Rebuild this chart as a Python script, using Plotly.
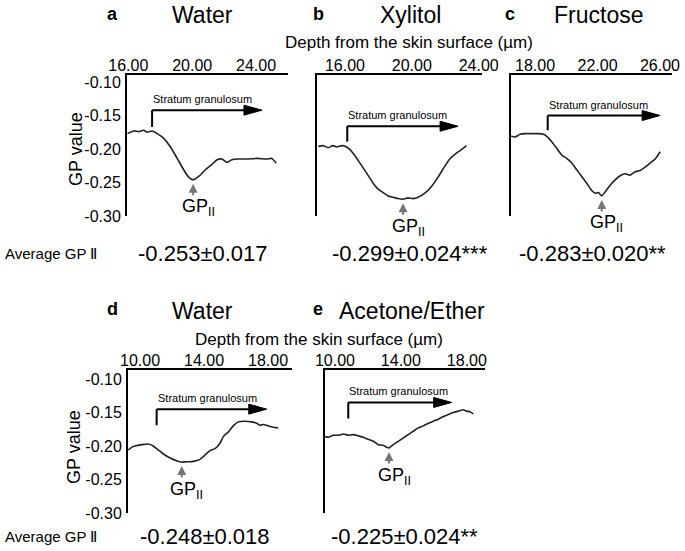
import plotly.graph_objects as go

W, H = 685, 551
FONT = "Liberation Sans, Arial, sans-serif"

panels = ["a", "b", "c", "d", "e"]
treatments = ["Water", "Xylitol", "Fructose", "Water", "Acetone/Ether"]
avg_gp = ["-0.253±0.017", "-0.299±0.024***", "-0.283±0.020**",
          "-0.248±0.018", "-0.225±0.024**"]

# GP profiles (depth in µm, GP value)
depth_a = [15.95, 16.34, 16.66, 16.97, 17.18, 17.49, 17.81, 18.22, 18.64, 19.06, 19.47, 19.78, 20.06,
           20.41, 20.83, 21.24, 21.56, 21.87, 22.18, 22.49, 22.81, 23.43, 24.06, 24.68, 24.99, 25.26]
gp_a = [-0.177, -0.173, -0.174, -0.172, -0.175, -0.173, -0.177, -0.184, -0.197, -0.214, -0.231, -0.242, -0.246,
        -0.241, -0.231, -0.223, -0.216, -0.215, -0.220, -0.216, -0.215, -0.215, -0.214, -0.215, -0.214, -0.221]

depth_b = [14.41, 14.71, 15.00, 15.27, 15.51, 15.80, 16.10, 16.30, 16.60, 16.90, 17.30, 17.69, 17.99, 18.29, 18.59,
           18.89, 19.18, 19.48, 19.78, 20.08, 20.38, 20.78, 21.18, 21.57, 21.97, 22.27, 22.67, 22.97, 23.27]
gp_b = [-0.196, -0.195, -0.198, -0.195, -0.197, -0.195, -0.197, -0.201, -0.210, -0.221, -0.236, -0.251, -0.260,
        -0.265, -0.270, -0.272, -0.274, -0.275, -0.273, -0.274, -0.272, -0.266, -0.256, -0.242, -0.226, -0.215,
        -0.206, -0.201, -0.195]

depth_c = [16.46, 16.72, 17.04, 17.36, 17.79, 18.21, 18.53, 18.75, 19.07, 19.39, 19.71, 20.03, 20.35, 20.67, 20.99,
           21.31, 21.63, 21.85, 22.06, 22.27, 22.49, 22.81, 23.13, 23.45, 23.77, 24.09, 24.41, 24.73, 25.05, 25.37,
           25.69, 26.01]
gp_c = [-0.181, -0.182, -0.178, -0.177, -0.177, -0.177, -0.178, -0.181, -0.189, -0.199, -0.209, -0.214, -0.221,
        -0.231, -0.241, -0.251, -0.262, -0.266, -0.265, -0.270, -0.264, -0.254, -0.246, -0.240, -0.237, -0.239,
        -0.234, -0.232, -0.227, -0.221, -0.215, -0.204]

depth_d = [9.27, 9.48, 9.69, 10.11, 10.52, 10.83, 11.14, 11.46, 11.88, 12.29, 12.61, 12.92, 13.33, 13.75, 13.96,
           14.17, 14.38, 14.69, 15.00, 15.21, 15.52, 15.83, 16.14, 16.56, 16.98, 17.29, 17.50, 17.71, 18.02, 18.33,
           18.64]
gp_d = [-0.206, -0.202, -0.200, -0.198, -0.197, -0.200, -0.206, -0.212, -0.218, -0.222, -0.224, -0.2235, -0.223,
        -0.220, -0.216, -0.211, -0.207, -0.204, -0.196, -0.186, -0.179, -0.170, -0.164, -0.163, -0.164, -0.166,
        -0.169, -0.168, -0.170, -0.172, -0.173]

depth_e = [9.40, 9.60, 9.90, 10.21, 10.51, 10.81, 11.12, 11.42, 11.72, 12.02, 12.33, 12.63, 12.93, 13.14, 13.28,
           13.54, 13.84, 14.15, 14.45, 14.75, 15.05, 15.36, 15.66, 15.96, 16.27, 16.57, 16.87, 17.18, 17.48, 17.78,
           17.99, 18.19, 18.39]
gp_e = [-0.186, -0.187, -0.184, -0.184, -0.182, -0.184, -0.183, -0.185, -0.187, -0.190, -0.193, -0.198, -0.199,
        -0.202, -0.203, -0.198, -0.193, -0.188, -0.183, -0.178, -0.173, -0.170, -0.166, -0.163, -0.160, -0.156,
        -0.153, -0.150, -0.148, -0.146, -0.148, -0.149, -0.152]

depths = [depth_a, depth_b, depth_c, depth_d, depth_e]
gps = [gp_a, gp_b, gp_c, gp_d, gp_e]

tick_start = [16, 16, 18, 10, 10]
y_ticks = [-0.30, -0.25, -0.20, -0.15, -0.10]
y_tick_text = ["-0.30", "-0.25", "-0.20", "-0.15", "-0.10"]

# stratum granulosum bracket (start depth, arrow end, bracket level, foot level)
sg_start = [17.49, 16.14, 18.81, 11.04, 10.81]
sg_end = [24.37, 22.77, 26.01, 17.92, 17.08]
sg_top = [-0.142, -0.166, -0.150, -0.145, -0.135]
sg_base = [-0.167, -0.189, -0.172, -0.169, -0.159]

# panel frames in pixels
x_px = [(127, 288), (317, 482), (511, 672), (128, 292), (325, 485)]
y_px = [(75, 216), (75, 216), (75, 216), (370, 513), (370, 513)]
x_ranges = [[15.92, 26.0], [14.33, 24.2], [16.46, 26.77], [9.25, 19.5], [9.4, 19.1]]
y_ranges = [[-0.30, -0.0895]] * 3 + [[-0.30, -0.0866]] * 2


def note(text, x, y, size, **kw):
    """Text placed at a pixel position of the page."""
    d = dict(text=text, x=x / W, y=1 - y / H, xref="paper", yref="paper",
             xanchor="center", yanchor="middle", showarrow=False,
             font=dict(size=size, color="black", family=FONT))
    d.update(kw)
    return d


fig = go.Figure()
annotations = []
shapes = []
layout = {}

for i in range(5):
    sfx = "" if i == 0 else str(i + 1)
    xa, ya = "x" + sfx, "y" + sfx
    fig.add_trace(go.Scatter(
        x=depths[i], y=gps[i], xaxis=xa, yaxis=ya, mode="lines",
        line=dict(color="#222222", width=1.6, shape="spline", smoothing=0.5),
        showlegend=False, hoverinfo="skip",
    ))

    layout["xaxis" + sfx] = dict(
        domain=[x_px[i][0] / W, x_px[i][1] / W], range=x_ranges[i], anchor=ya,
        side="top", showline=True, linecolor="black", linewidth=2, ticks="",
        tick0=tick_start[i], dtick=4, tickformat=".2f", showgrid=False, zeroline=False,
        tickfont=dict(size=16, color="black", family=FONT), ticklabelstandoff=-4,
        automargin=False,
    )
    layout["yaxis" + sfx] = dict(
        domain=[1 - y_px[i][1] / H, 1 - y_px[i][0] / H], range=y_ranges[i], anchor=xa,
        showline=True, linecolor="black", linewidth=2, ticks="",
        tickvals=y_ticks, ticktext=y_tick_text, showgrid=False, zeroline=False,
        showticklabels=(i in (0, 3)), ticklabelstandoff=1, automargin=False,
        tickfont=dict(size=16, color="black", family=FONT),
    )

    # stratum granulosum bracket
    shapes.append(dict(type="line", xref=xa, yref=ya, x0=sg_start[i], x1=sg_start[i],
                       y0=sg_base[i], y1=sg_top[i], line=dict(color="black", width=2)))
    shapes.append(dict(type="line", xref=xa, yref=ya, x0=sg_start[i], x1=sg_end[i] - 0.5,
                       y0=sg_top[i], y1=sg_top[i], line=dict(color="black", width=2)))
    shapes.append(dict(type="path", xref=xa, yref=ya, xsizemode="pixel", ysizemode="pixel",
                       xanchor=sg_end[i], yanchor=sg_top[i], path="M-18,-5 L0,0 L-18,5 Z",
                       fillcolor="black", line=dict(color="black", width=1)))
    annotations.append(dict(text="Stratum granulosum", x=sg_start[i], y=sg_top[i], xref=xa, yref=ya,
                            xanchor="left", yanchor="middle", yshift=11, xshift=-1, showarrow=False,
                            font=dict(size=11, color="black", family=FONT)))

    # GP II arrow under the minimum of the profile
    k = gps[i].index(min(gps[i]))
    annotations.append(dict(text="", x=depths[i][k], y=gps[i][k], xref=xa, yref=ya,
                            showarrow=True, ax=0, ay=17, standoff=4, arrowhead=2, arrowsize=0.9,
                            arrowwidth=2, arrowcolor="#777777"))
    annotations.append(dict(text="GP<sub>II</sub>", x=depths[i][k], y=gps[i][k], xref=xa, yref=ya,
                            showarrow=False, xanchor="center", yanchor="middle", xshift=5, yshift=-28,
                            font=dict(size=18, color="black", family=FONT)))

# panel letters and treatment titles
letter_pos = [(113, 14), (318, 14), (510, 14), (113, 309), (318, 309)]
title_pos = [(202, 15), (410, 15), (598, 15), (202, 311), (412, 311)]
for i in range(5):
    annotations.append(note("<b>%s</b>" % panels[i], *letter_pos[i], 18))
    annotations.append(note(treatments[i], *title_pos[i], 23))

# axis titles
annotations.append(note("Depth from the skin surface (µm)", 409, 43, 17))
annotations.append(note("Depth from the skin surface (µm)", 319, 339, 17))
annotations.append(note("GP value", 76, 149, 18, textangle=-90))
annotations.append(note("GP value", 74, 447, 18, textangle=-90))

# average GP II rows
annotations.append(note("Average GP Ⅱ", 3, 253, 15, xanchor="left"))
annotations.append(note("Average GP Ⅱ", 3, 536, 15, xanchor="left"))
avg_pos = [(203, 253), (410, 253), (592, 253), (205, 536), (404, 536)]
for i in range(5):
    annotations.append(note(avg_gp[i], *avg_pos[i], 22))

fig.update_layout(
    width=W, height=H, margin=dict(l=0, r=0, t=0, b=0, autoexpand=False),
    paper_bgcolor="white", plot_bgcolor="white",
    font=dict(family=FONT, color="black"),
    annotations=annotations, shapes=shapes, showlegend=False,
    **layout,
)

# drop the default 8px page margin so the figure sits at the window corner
fig.write_html("out.html", config={"displayModeBar": False},
               post_script="document.body.style.margin='0';")
